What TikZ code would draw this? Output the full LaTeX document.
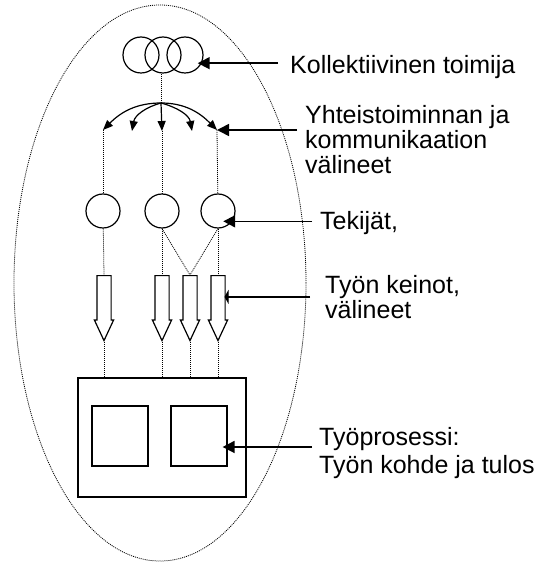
\documentclass[tikz,border=0pt]{standalone}
\usepackage{fontspec}
\setmainfont{Liberation Sans}
\usepackage{tikz}
\usetikzlibrary{arrows.meta,shapes,positioning}
\tikzstyle{member} = [circle, draw, line width=1.2pt, minimum size=36pt, inner sep=0pt]
\tikzstyle{actor} = [circle, draw, line width=1.2pt, minimum size=34pt, inner sep=0pt]
\tikzstyle{tool} = [single arrow, draw, fill=white, line width=1.2pt, shape border rotate=270, minimum height=65pt, inner sep=6.5pt, single arrow head extend=2.5pt, single arrow tip angle=50]
\tikzstyle{box} = [draw, line width=1.2pt]
\tikzstyle{link} = [line width=0.8pt, dash pattern=on 1pt off 1pt]
\tikzstyle{share} = [line width=1.2pt, -{Triangle[length=10pt,width=8pt]}]
\tikzstyle{arrow} = [line width=1.6pt, -{Triangle[length=12pt,width=12pt]}]
\tikzstyle{lbl} = [font=\fontsize{25}{25}\selectfont, align=left, inner ysep=0pt]

\begin{document}
\begin{tikzpicture}[x=1pt,y=1pt]
\useasboundingbox (0,0) rectangle (541,563);
% Activity system
\node[ellipse, draw, link, minimum width=292pt, minimum height=556pt] (system) at (160,280) {};

% Collective actor
\node[member] (k1) at (141,508) {};
\node[member] (k2) at (163,508) {};
\node[member] (k3) at (185,508) {};

% Tools of cooperation
\coordinate (hub) at (161,460);
\coordinate (a1) at (103,433);
\coordinate (a2) at (132,432);
\coordinate (a3) at (162,432);
\coordinate (a4) at (192,432);
\coordinate (a5) at (217,433);

% Actors
\node[actor] (c1) at (103,352) {};
\node[actor] (c2) at (162,352) {};
\node[actor] (c3) at (218,352) {};

% Means of work
\node[tool] (b1) at (104,262.5) {};
\node[tool] (b2) at (162,262.5) {};
\node[tool] (b3) at (190,262.5) {};
\node[tool] (b4) at (218,262.5) {};

% Work process
\node[box, minimum width=168pt, minimum height=119pt] (process) at (162,125.5) {};
\node[box, minimum width=56pt, minimum height=60pt] (object) at (120,127) {};
\node[box, minimum width=56pt, minimum height=60pt] (result) at (199,127) {};

% Links
\draw[link] (hub |- k2.south) -- (hub);
\draw[link] (a1) -- (c1);
\draw[link] (a3) -- (c2);
\draw[link] (a5) -- (c3);
\draw[link] (c1) -- (b1.tail);
\draw[link] (c2) -- (b2.tail);
\draw[link] (c2.south) -- (b3.tail);
\draw[link] (c3.south) -- (b3.tail);
\draw[link] (c3) -- (b4.tail);
\foreach \b in {b1,b2,b3,b4}
  \draw[link] (\b.tip) -- (\b.tip |- process.north);

% Communication
\draw[share] (hub) to[out=180,in=45] (a1);
\draw[share] (hub) to[out=195,in=80] (a2);
\draw[share] (hub) -- (a3);
\draw[share] (hub) to[out=-15,in=100] (a4);
\draw[share] (hub) to[out=0,in=135] (a5);

% Labels
\node[lbl, anchor=base west, inner xsep=12pt] (kol) at (278,489) {Kollektiivinen toimija};
\node[lbl, anchor=north west, inner xsep=8pt] (yht) at (297,458) {Yhteistoiminnan ja\\kommunikaation\\välineet};
\node[lbl, anchor=base west, inner xsep=8pt] (tek) at (312,333) {Tekijät,};
\node[lbl, anchor=north west, inner xsep=15pt] (kei) at (310,288) {Työn keinot,\\välineet};
\node[lbl, anchor=north west, inner xsep=7pt, font=\fontsize{25}{28}\selectfont] (tyo) at (312,136) {Työprosessi:\\Työn kohde ja tulos};

\draw[arrow, shorten >=-4pt] (kol.west |- k3.-26) -- (k3.-26);
\draw[arrow] (yht.west |- a5) -- (a5);
\draw[arrow, shorten >=-9pt] (tek.west |- c3.-36) -- (c3.-36);
\draw[arrow, -{Triangle[length=4pt,width=14pt]}, shorten >=6.5pt] (kei.west) -- (kei.west -| b4.center);
\draw[arrow, shorten >=-5pt] (tyo.west |- result.-21) -- (result.-21);
\end{tikzpicture}
\end{document}
